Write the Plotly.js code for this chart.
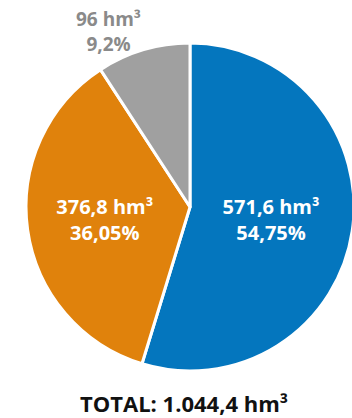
<!DOCTYPE html>
<html>
<head>
<meta charset="utf-8">
<script src="https://cdn.plot.ly/plotly-3.0.1.min.js"></script>
<style>html,body{margin:0;padding:0;background:#fff;overflow:hidden}</style>
</head>
<body>
<div id="chart" style="width:356px;height:418px"></div>
<script>
var categories = ['A', 'B', 'C'];
var values = [571.6, 376.8, 96];
var percentLabels = ['54,75%', '36,05%', '9,2%'];
var colors = ['#0476be', '#e0820c', '#a0a0a0'];
var totalLabel = 'TOTAL: 1.044,4 hm³';

function fmt(v) { return String(v).replace('.', ',') + ' hm³'; }
var texts = values.map(function (v, i) { return fmt(v) + '<br>' + percentLabels[i]; });

var W = 356, H = 418;

var trace = {
  type: 'pie',
  labels: categories,
  values: values,
  text: texts,
  textinfo: 'text',
  texttemplate: '%{text}',
  hoverinfo: 'none',
  sort: false,
  direction: 'clockwise',
  rotation: 0,
  textposition: ['inside', 'inside', 'none'],
  insidetextorientation: 'horizontal',
  insidetextfont: {family: 'Open Sans', size: 20, color: '#ffffff', weight: 700},
  marker: {colors: colors, line: {color: '#ffffff', width: 3}},
  domain: {x: [26 / W, 354 / W], y: [0.1125, 0.897]},
  showlegend: false
};

var layout = {
  width: W,
  height: H,
  margin: {l: 0, r: 0, t: 0, b: 0},
  paper_bgcolor: '#ffffff',
  showlegend: false,
  annotations: [
    {
      text: fmt(values[2]) + '<br>' + percentLabels[2],
      x: 108 / W, y: (H - 32) / H, xref: 'paper', yref: 'paper',
      xanchor: 'center', yanchor: 'middle',
      showarrow: false,
      font: {family: 'Open Sans', size: 19, color: '#8a8a8a', weight: 700}
    },
    {
      text: totalLabel,
      x: 184 / W, y: (H - 403) / H, xref: 'paper', yref: 'paper',
      xanchor: 'center', yanchor: 'middle',
      showarrow: false,
      font: {family: 'Open Sans', size: 22, color: '#111111', weight: 700}
    }
  ]
};

Plotly.newPlot('chart', [trace], layout, {staticPlot: true, displayModeBar: false});
</script>
</body>
</html>
